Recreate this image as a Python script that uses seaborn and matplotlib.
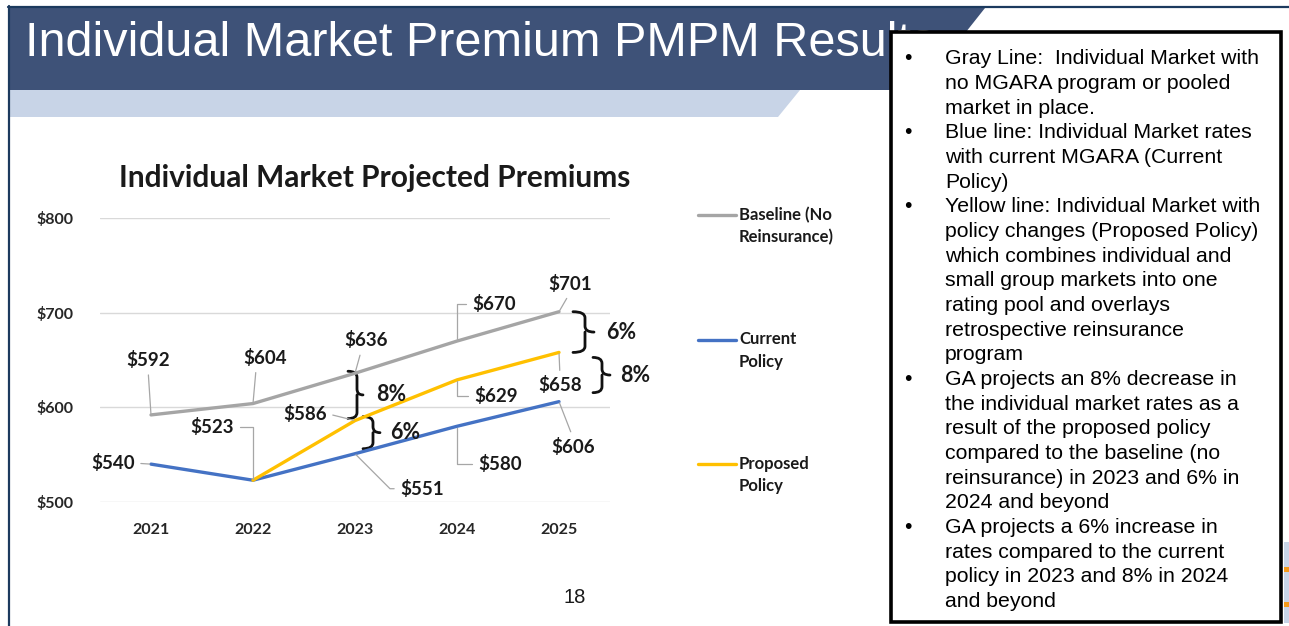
import numpy as np
import pandas as pd
import matplotlib
matplotlib.use("Agg")
import matplotlib.pyplot as plt
import seaborn as sns
from matplotlib.patches import Rectangle, Polygon, PathPatch
from matplotlib.path import Path
from matplotlib.lines import Line2D

# ---------------- data ----------------
years = [2021, 2022, 2023, 2024, 2025]
baseline = [592, 604, 636, 670, 701]
current = [540, 523, 551, 580, 606]
proposed = [np.nan, 523, 586, 629, 658]
series_names = ["Baseline (No Reinsurance)", "Current Policy", "Proposed Policy"]
legend_labels = ["Baseline (No\nReinsurance)", "Current\nPolicy", "Proposed\nPolicy"]
yticks = [500, 600, 700, 800]
ytick_labels = ["$500", "$600", "$700", "$800"]
brace_labels = ["6%", "8%", "8%", "6%"]
slide_title = "Individual Market Premium PMPM Results"
chart_title = "Individual Market Projected Premiums"
page_number = "18"
notes = [
    (True, "Gray Line:  Individual Market with"),
    (False, "no MGARA program or pooled"),
    (False, "market in place."),
    (True, "Blue line: Individual Market rates"),
    (False, "with current MGARA (Current"),
    (False, "Policy)"),
    (True, "Yellow line: Individual Market with"),
    (False, "policy changes (Proposed Policy)"),
    (False, "which combines individual and"),
    (False, "small group markets into one"),
    (False, "rating pool and overlays"),
    (False, "retrospective reinsurance"),
    (False, "program"),
    (True, "GA projects an 8% decrease in"),
    (False, "the individual market rates as a"),
    (False, "result of the proposed policy"),
    (False, "compared to the baseline (no"),
    (False, "reinsurance) in 2023 and 6% in"),
    (False, "2024 and beyond"),
    (True, "GA projects a 6% increase in"),
    (False, "rates compared to the current"),
    (False, "policy in 2023 and 8% in 2024"),
    (False, "and beyond"),
]

colors = ["#A5A5A5", "#4472C4", "#FFC000"]

# ---------------- figure ----------------
sns.set_theme(style="white")
plt.rcParams["font.family"] = ["Lato", "DejaVu Sans"]

W, H = 1289, 626
fig = plt.figure(figsize=(W / 100, H / 100), dpi=100)
fig.patch.set_facecolor("white")


def fx(px):
    return px / W


def fy(py):
    return 1 - py / H


# slide decoration
fig.add_artist(Polygon([(fx(10), fy(8)), (fx(985), fy(8)), (fx(920), fy(90)), (fx(10), fy(90))],
                       closed=True, transform=fig.transFigure, fc="#3E5278", ec="none", zorder=0))
fig.add_artist(Polygon([(fx(10), fy(90)), (fx(800), fy(90)), (fx(778), fy(117)), (fx(10), fy(117))],
                       closed=True, transform=fig.transFigure, fc="#C8D4E7", ec="none", zorder=0))
fig.add_artist(Line2D([fx(8), fx(1289)], [fy(6.5), fy(6.5)], transform=fig.transFigure,
                      color="#1C3A5E", lw=1.6, zorder=1))
fig.add_artist(Line2D([fx(8.5), fx(8.5)], [fy(6), fy(626)], transform=fig.transFigure,
                      color="#1C3A5E", lw=1.6, zorder=1))
fig.add_artist(Rectangle((fx(1284), fy(623)), fx(5), 81 / H, transform=fig.transFigure,
                         fc="#C8D4E7", ec="none", zorder=0))
for yy in (567, 602):
    fig.add_artist(Rectangle((fx(1284), fy(yy + 5)), fx(5), 5 / H, transform=fig.transFigure,
                             fc="#F59A1B", ec="none", zorder=0))

fig.text(fx(25), fy(56), slide_title, family=["Liberation Sans", "DejaVu Sans"],
         fontsize=35, color="white", va="baseline", ha="left", zorder=2)

# ---------------- chart ----------------
ax = fig.add_axes([fx(100), fy(502), 510 / W, 284 / H])
ax.set_facecolor("none")

df = pd.DataFrame({
    "year": years * 3,
    "premium": baseline + current + proposed,
    "series": np.repeat(series_names, len(years)),
}).dropna()

sns.lineplot(data=df, x="year", y="premium", hue="series", hue_order=series_names,
             palette=dict(zip(series_names, colors)), linewidth=2.4, legend=False, ax=ax)

ax.set_xlim(2020.5, 2025.5)
ax.set_ylim(500, 800)
ax.set_yticks(yticks)
ax.set_yticklabels(ytick_labels)
ax.set_xticks(years)
ax.set_xticklabels([str(y) for y in years])
ax.set_xlabel("")
ax.set_ylabel("")
for s in ax.spines.values():
    s.set_visible(False)
ax.grid(axis="y", color="#D9D9D9", lw=1.0)
ax.grid(axis="x", visible=False)
ax.set_axisbelow(True)
ax.tick_params(axis="both", length=0, labelsize=11.5, colors="#262626")
ax.tick_params(axis="y", pad=19)
ax.tick_params(axis="x", pad=15)
for lab in ax.get_xticklabels() + ax.get_yticklabels():
    lab.set_fontweight("bold")

fig.text(fx(375), fy(178), chart_title, fontsize=21.5, fontweight="bold",
         color="#1A1A1A", ha="center", va="center")

# data labels with leader lines (offsets in pixels; positions follow the data)
straight = "arc3,rad=0"
elbow = "angle,angleA=0,angleB=90,rad=0"
label_specs = {
    0: [((-3, 55), (0.5, 0), straight), ((12, 46), (0.3, 0), straight),
        ((11, 33), (0.4, 0), straight), ((37, 37), (0, 0.5), elbow),
        ((11, 28), (0.5, 0), straight)],
    1: [((-38, 1), (1, 0.5), straight), ((-41, 53), (1, 0.5), elbow),
        ((67, -35), (0, 0.5), "angle,angleA=0,angleB=-45,rad=0"), ((43, -38), (0, 0.5), elbow),
        ((14, -45), (0.5, 1), straight)],
    2: [None, None, ((-50, 7), (1, 0.5), straight), ((39, -16), (0, 0.5), elbow),
        ((1, -33), (0.5, 1), straight)],
}
all_series = [baseline, current, proposed]
for si, vals in enumerate(all_series):
    for i, (yr, v) in enumerate(zip(years, vals)):
        spec = label_specs[si][i]
        if spec is None or np.isnan(v):
            continue
        (dx, dy), rel, conn = spec
        ax.annotate(f"${v:.0f}", xy=(yr, v), xytext=(dx, dy), textcoords="offset pixels",
                    ha="center", va="center", fontsize=13.5, fontweight="bold", color="#1A1A1A",
                    annotation_clip=False,
                    arrowprops=dict(arrowstyle="-", color="#A6A6A6", lw=0.9, shrinkA=2, shrinkB=1,
                                    relpos=rel, connectionstyle=conn))

# braces showing percentage differences
bbox = ax.get_window_extent()
ppx = bbox.width / (ax.get_xlim()[1] - ax.get_xlim()[0])
ppy = bbox.height / (ax.get_ylim()[1] - ax.get_ylim()[0])


def brace(yr, v_top, v_bot, x_left, x_mid, x_tip, inset_top, inset_bot, text, text_dx):
    yt = v_top - inset_top / ppy
    yb = v_bot + inset_bot / ppy
    ym = (yt + yb) / 2
    x0 = yr + x_left / ppx
    x1 = yr + x_mid / ppx
    x2 = yr + x_tip / ppx
    r = 6 / ppy
    verts = [(x0, yt), (x1, yt), (x1, yt - r), (x1, ym + r), (x1, ym), (x2, ym),
             (x1, ym), (x1, ym - r), (x1, yb + r), (x1, yb), (x0, yb)]
    codes = [Path.MOVETO, Path.CURVE3, Path.CURVE3, Path.LINETO, Path.CURVE3, Path.CURVE3,
             Path.MOVETO, Path.CURVE3, Path.LINETO, Path.CURVE3, Path.CURVE3]
    ax.add_patch(PathPatch(Path(verts, codes), fc="none", ec="#111111", lw=2.0,
                           clip_on=False, capstyle="round", joinstyle="round"))
    ax.text(yr + text_dx / ppx, ym, text, fontsize=15.5, fontweight="bold", color="#1A1A1A",
            ha="center", va="center", clip_on=False)


brace(years[4], baseline[4], proposed[4], 14, 26, 35, 0, 0, brace_labels[0], 62)
brace(years[4], proposed[4], current[4], 34, 43, 51, 5, 9, brace_labels[1], 76)
brace(years[2], baseline[2], proposed[2], -7, 2, 8, -2, 2, brace_labels[2], 36)
brace(years[2], proposed[2], current[2], 8, 18, 25, -4, 5, brace_labels[3], 50)

# legend (manual, aligned with first label line as in the source)
handles = ax.get_lines()[:3]
for k, (lab, h) in enumerate(zip(legend_labels, handles)):
    y0 = 215 + k * 124.5
    fig.add_artist(Line2D([fx(698), fx(736)], [fy(y0), fy(y0)], transform=fig.transFigure,
                          color=h.get_color(), lw=2.4))
    for j, part in enumerate(lab.split("\n")):
        fig.text(fx(739), fy(y0 + j * 22.5), part, fontsize=12, fontweight="bold",
                 color="#1A1A1A", ha="left", va="center")

# page number
fig.text(fx(574.5), fy(603), page_number, family=["Liberation Sans", "DejaVu Sans"],
         fontsize=14.5, color="#1A1A1A", ha="center", va="baseline")

# notes box
fig.add_artist(Rectangle((fx(891), fy(622)), (1281 - 891) / W, (622 - 32) / H,
                         transform=fig.transFigure, fc="white", ec="black", lw=2.6, zorder=5))
for k, (bul, txt) in enumerate(notes):
    yb = 64.5 + k * 24.65
    if bul:
        fig.text(fx(908), fy(yb), "\u2022", family=["Liberation Sans", "DejaVu Sans"],
                 fontsize=15.3, color="black", ha="center", va="baseline", zorder=6)
    fig.text(fx(945), fy(yb), txt, family=["Liberation Sans", "DejaVu Sans"],
             fontsize=15.3, color="black", ha="left", va="baseline", zorder=6)

fig.savefig("out.png", dpi=100)
